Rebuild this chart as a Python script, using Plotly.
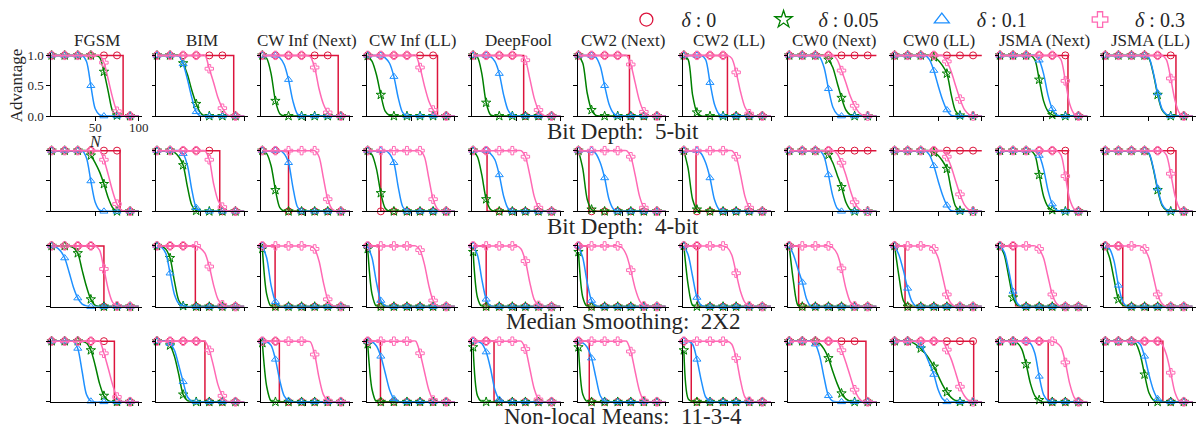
import plotly.graph_objects as go

W, H = 1203, 439

N_GRID = [0, 5, 10, 15, 20, 25, 30, 35, 40, 45, 50, 55, 60, 65, 70, 75, 80, 85, 90, 95, 100]

ATTACKS = ["FGSM", "BIM", "CW Inf (Next)", "CW Inf (LL)", "DeepFool", "CW2 (Next)",
           "CW2 (LL)", "CW0 (Next)", "CW0 (LL)", "JSMA (Next)", "JSMA (LL)"]
DEFENSES = ["Bit Depth:\u00a0 5-bit", "Bit Depth:\u00a0 4-bit",
            "Median Smoothing:\u00a0 2X2", "Non-local Means:\u00a0 11-3-4"]
DELTAS = ["0", "0.05", "0.1", "0.3"]

# delta = 0 : N at which advantage drops from 1 to 0 (None = never drops)
CUT_D0 = [
    [82, 88, 87, 80, 58, 58.5, 50, None, None, 78, 81],
    [78.5, 72, 30, 15, 16, 12, 14, None, None, 78, 81],
    [60, 44, 14.6, 13, 15, 10, 15.8, 10.8, 12, 18, 20],
    [72, 55, 19.5, 14.6, 24, 12.4, 8.5, 88, 90.7, 55.3, 66],
]

# ---------------- Bit Depth 5-bit ----------------
BD5_D005 = [
    [1,1,1,1,1,1,1,1,1,1,1, .97,.73,.4,.08,.01, 0,0,0,0,0],
    [1,1,1,1,1,1, .87,.68,.42,.2,.05, 0,0,0,0,0, 0,0,0,0,0],
    [1, .95,.7,.25,.04, 0,0,0,0,0, 0,0,0,0,0, 0,0,0,0,0, 0],
    [.99,.9,.68,.35,.08,.01, 0,0,0,0,0, 0,0,0,0,0, 0,0,0,0,0],
    [1, .97,.7,.22,.02, 0,0,0,0,0, 0,0,0,0,0, 0,0,0,0,0, 0],
    [1, .87,.38,.1,.01, 0,0,0,0,0, 0,0,0,0,0, 0,0,0,0,0, 0],
    [1, .93,.35,.06, 0,0,0,0,0, 0,0,0,0,0, 0,0,0,0,0, 0,0],
    [1,1,1,1,1,1,1,1,1, .93,.8,.55,.3,.1,.02, 0,0,0,0,0,0],
    [1,1,1,1,1,1,1,1,1, .97,.92,.83,.7,.35,.08,.01, 0,0,0,0,0],
    [1,1,1,1,1,1,1,1, .93,.6,.25,.08,.02, 0,0,0,0,0,0,0,0],
    [1,1,1,1,1,1,1,1,1,1, .95,.7,.35,.1,.02, 0,0,0,0,0,0],
]
BD5_D01 = [
    [1,1,1,1,1,1,1,1, .9,.5,.12,.02, 0,0,0,0,0,0,0,0,0],
    [1,1,1,1,1, .99,.86,.6,.3,.07, 0,0,0,0,0,0,0,0,0,0,0],
    [1,1,1,1, .96,.85,.6,.25,.04, 0,0,0,0,0,0,0,0,0,0,0,0],
    [1,1,1,1, .96,.87,.65,.3,.06, 0,0,0,0,0,0,0,0,0,0,0,0],
    [1,1,1,1, .98,.9,.7,.35,.1,.01, 0,0,0,0,0,0,0,0,0,0,0],
    [1,1,1,1, .97,.82,.5,.2,.05, 0,0,0,0,0,0,0,0,0,0,0,0],
    [1,1,1,1,1, .93,.55,.2,.04, 0,0,0,0,0,0,0,0,0,0,0,0],
    [1,1,1,1,1,1,1, .97,.8,.45,.15,.03, 0,0,0,0,0,0,0,0,0],
    [1,1,1,1,1,1,1,1, .93,.75,.5,.27,.1,.01, 0,0,0,0,0,0,0],
    [1,1,1,1,1,1,1,1,1, .92,.7,.35,.12,.02, 0,0,0,0,0,0,0],
    [1,1,1,1,1,1,1,1,1,1, .96,.72,.38,.12,.03, 0,0,0,0,0,0],
]
BD5_D03 = [
    [1,1,1,1,1,1,1,1,1,1,1,1, .88,.6,.3,.08,.01, 0,0,0,0],
    [1,1,1,1,1,1,1,1,1,1,1,1, .78,.55,.3,.13,.03, 0,0,0,0],
    [1,1,1,1,1,1,1,1,1,1,1, .98,.8,.45,.2,.06, 0,0,0,0,0],
    [1,1,1,1,1,1,1,1,1,1,1,1, .8,.5,.25,.1,.01, 0,0,0,0],
    [1,1,1,1,1,1,1,1,1,1,1,1, .92,.62,.3,.1,.02, 0,0,0,0],
    [1,1,1,1,1,1,1,1,1,1,1,1, .85,.55,.25,.07,.01, 0,0,0,0],
    [1,1,1,1,1,1,1,1,1,1,1, .95,.72,.4,.15,.04, 0,0,0,0,0],
    [1,1,1,1,1,1,1,1,1,1,1, .93,.75,.55,.33,.17,.06,.01, 0,0,0],
    [1,1,1,1,1,1,1,1,1,1,1,1, .9,.73,.5,.28,.11,.03, 0,0,0],
    [1,1,1,1,1,1,1,1,1,1,1,1,1,1, .93,.58,.2,.04, 0,0,0],
    [1,1,1,1,1,1,1,1,1,1,1,1,1,1, .93,.62,.25,.05, 0,0,0],
]

# ---------------- Bit Depth 4-bit ----------------
BD4_D005 = [
    [1,1,1,1,1,1,1,1,1, .92,.8,.65,.45,.22,.06, 0,0,0,0,0,0],
    [1,1,1,1, .97,.9,.76,.4,.1,.01, 0,0,0,0,0,0,0,0,0,0,0],
    [1, .95,.75,.35,.06, 0,0,0,0,0, 0,0,0,0,0, 0,0,0,0,0, 0],
    [1, .93,.7,.3,.05, 0,0,0,0,0, 0,0,0,0,0, 0,0,0,0,0, 0],
    [1, .9,.6,.2,.03, 0,0,0,0,0, 0,0,0,0,0, 0,0,0,0,0, 0],
    [1, .7,.2,.03, 0,0,0,0,0, 0,0,0,0,0, 0,0,0,0,0, 0,0],
    [1, .7,.2,.03, 0,0,0,0,0, 0,0,0,0,0, 0,0,0,0,0, 0,0],
    [1,1,1,1,1,1,1,1,1, .93,.8,.6,.4,.15,.03, 0,0,0,0,0,0],
    [1,1,1,1,1,1,1,1,1, .97,.92,.83,.7,.35,.08,.01, 0,0,0,0,0],
    [1,1,1,1,1,1,1,1, .93,.6,.25,.08,.02, 0,0,0,0,0,0,0,0],
    [1,1,1,1,1,1,1,1,1,1, .95,.7,.35,.1,.02, 0,0,0,0,0,0],
]
BD4_D01 = [
    [1,1,1,1,1,1,1,1, .88,.5,.15,.02, 0,0,0,0,0,0,0,0,0],
    [1,1,1,1,1,1, .95,.75,.35,.06, 0,0,0,0,0,0,0,0,0,0,0],
    [1,1,1,1,1, .95,.8,.4,.08, 0,0,0,0,0,0,0,0,0,0,0,0],
    [1,1,1,1,1, .95,.8,.4,.08, 0,0,0,0,0,0,0,0,0,0,0,0],
    [1,1,1,1, .95,.85,.6,.25,.05, 0,0,0,0,0,0,0,0,0,0,0,0],
    [1,1,1,1, .95,.8,.55,.2,.04, 0,0,0,0,0,0,0,0,0,0,0,0],
    [1,1,1,1, .95,.8,.55,.2,.04, 0,0,0,0,0,0,0,0,0,0,0,0],
    [1,1,1,1,1,1,1,1, .9,.6,.25,.05, 0,0,0,0,0,0,0,0,0],
    [1,1,1,1,1,1,1,1, .93,.75,.5,.27,.1,.01, 0,0,0,0,0,0,0],
    [1,1,1,1,1,1,1,1,1, .92,.7,.35,.12,.02, 0,0,0,0,0,0,0],
    [1,1,1,1,1,1,1,1,1,1, .96,.72,.38,.12,.03, 0,0,0,0,0,0],
]
BD4_D03 = [
    [1,1,1,1,1,1,1,1,1,1,1,1, .85,.6,.33,.12,.02, 0,0,0,0],
    [1,1,1,1,1,1,1,1,1,1,1,1, .85,.45,.18,.07,.01, 0,0,0,0],
    [1,1,1,1,1,1,1,1,1,1,1,1,1, .9,.55,.2,.04, 0,0,0,0],
    [1,1,1,1,1,1,1,1,1,1,1,1,1, .9,.55,.2,.04, 0,0,0,0],
    [1,1,1,1,1,1,1,1,1,1,1,1, .9,.6,.25,.06, 0,0,0,0,0],
    [1,1,1,1,1,1,1,1,1,1,1,1, .9,.6,.25,.06, 0,0,0,0,0],
    [1,1,1,1,1,1,1,1,1,1,1,1, .9,.6,.25,.06, 0,0,0,0,0],
    [1,1,1,1,1,1,1,1,1,1,1, .95,.8,.6,.35,.15,.04, 0,0,0,0],
    [1,1,1,1,1,1,1,1,1,1,1,1, .9,.73,.5,.28,.11,.03, 0,0,0],
    [1,1,1,1,1,1,1,1,1,1,1,1,1,1, .93,.58,.2,.04, 0,0,0],
    [1,1,1,1,1,1,1,1,1,1,1,1,1,1, .93,.62,.25,.05, 0,0,0],
]

# ---------------- Median Smoothing 2x2 ----------------
MS_D005 = [
    [1,1,1,1,1, .97,.88,.6,.33,.12,.02, 0,0,0,0,0,0,0,0,0,0],
    [1, .99,.95,.8,.42,.1,.01, 0,0,0,0,0,0,0,0,0,0,0,0,0,0],
    [.95,.2, 0,0,0,0,0, 0,0,0,0,0, 0,0,0,0,0, 0,0,0,0],
    [.95,.2, 0,0,0,0,0, 0,0,0,0,0, 0,0,0,0,0, 0,0,0,0],
    [.9,.15, 0,0,0,0,0, 0,0,0,0,0, 0,0,0,0,0, 0,0,0,0],
    [.9,.15, 0,0,0,0,0, 0,0,0,0,0, 0,0,0,0,0, 0,0,0,0],
    [1, .35,.02, 0,0,0,0,0, 0,0,0,0,0, 0,0,0,0,0, 0,0,0],
    [1, .4,.02, 0,0,0,0,0, 0,0,0,0,0, 0,0,0,0,0, 0,0,0],
    [1, .5,.1, 0,0,0,0,0, 0,0,0,0,0, 0,0,0,0,0, 0,0,0],
    [1, .85,.5,.15,.02, 0,0,0,0,0, 0,0,0,0,0, 0,0,0,0,0, 0],
    [1, .8,.45,.12,.02, 0,0,0,0,0, 0,0,0,0,0, 0,0,0,0,0, 0],
]
MS_D01 = [
    [1, .98,.92,.8,.57,.32,.14,.04,.01, 0,0,0,0,0,0,0,0,0,0,0,0],
    [1, .98,.88,.55,.2,.05,.01, 0,0,0,0,0,0,0,0,0,0,0,0,0,0],
    [1, .8,.35,.08, 0,0,0,0,0, 0,0,0,0,0, 0,0,0,0,0, 0,0],
    [1, .8,.4,.1,.01, 0,0,0,0,0, 0,0,0,0,0, 0,0,0,0,0, 0],
    [1, .85,.45,.12,.01, 0,0,0,0,0, 0,0,0,0,0, 0,0,0,0,0, 0],
    [1, .8,.4,.1,.01, 0,0,0,0,0, 0,0,0,0,0, 0,0,0,0,0, 0],
    [1, .85,.5,.15,.02, 0,0,0,0,0, 0,0,0,0,0, 0,0,0,0,0, 0],
    [1, .85,.62,.4,.12, 0,0,0,0,0, 0,0,0,0,0, 0,0,0,0,0, 0],
    [1, .85,.6,.3,.08, 0,0,0,0,0, 0,0,0,0,0, 0,0,0,0,0, 0],
    [1, .9,.6,.25,.05, 0,0,0,0,0, 0,0,0,0,0, 0,0,0,0,0, 0],
    [1, .95,.75,.35,.08, 0,0,0,0,0, 0,0,0,0,0, 0,0,0,0,0, 0],
]
MS_D03 = [
    [1,1,1,1,1,1,1,1,1,1,1, .93,.62,.28,.07,.01, 0,0,0,0,0],
    [1,1,1,1,1,1,1,1,1,1, .96,.88,.66,.35,.12,.03, 0,0,0,0,0],
    [1,1,1,1,1,1,1,1,1,1,1,1, .95,.75,.4,.12,.02, 0,0,0,0],
    [1,1,1,1,1,1,1,1,1,1,1,1, .93,.7,.35,.1,.01, 0,0,0,0],
    [1,1,1,1,1,1,1,1,1,1,1, .95,.75,.4,.12,.02, 0,0,0,0,0],
    [1,1,1,1,1,1,1,1,1,1, .97,.85,.6,.3,.1,.01, 0,0,0,0,0],
    [1,1,1,1,1,1,1,1,1,1, .97,.85,.55,.25,.07,.01, 0,0,0,0,0],
    [1,1,1,1,1,1,1,1,1,1, .97,.87,.63,.3,.08,.01, 0,0,0,0,0],
    [1,1,1,1,1,1,1,1,1, .95,.8,.5,.2,.05, 0,0,0,0,0,0,0],
    [1,1,1,1,1,1,1,1,1, .95,.8,.5,.2,.05, 0,0,0,0,0,0,0],
    [1,1,1,1,1,1,1,1,1, .95,.8,.5,.2,.05, 0,0,0,0,0,0,0],
]

# ---------------- Non-local Means 11-3-4 ----------------
NLM_D005 = [
    [1,1,1,1,1,1,1,1, .97,.85,.6,.3,.1,.02, 0,0,0,0,0,0,0],
    [1,1,1, .93,.75,.45,.12,.02, 0,0,0,0,0,0,0,0,0,0,0,0,0],
    [.97,.25,.01, 0,0,0,0,0, 0,0,0,0,0, 0,0,0,0,0, 0,0,0],
    [.95,.2, 0,0,0,0,0, 0,0,0,0,0, 0,0,0,0,0, 0,0,0,0],
    [.9,.1, 0,0,0,0,0, 0,0,0,0,0, 0,0,0,0,0, 0,0,0,0],
    [.9,.12, 0,0,0,0,0, 0,0,0,0,0, 0,0,0,0,0, 0,0,0,0],
    [.85,.05, 0,0,0,0,0, 0,0,0,0,0, 0,0,0,0,0, 0,0,0,0],
    [1,1,1,1,1,1,1, .96,.87,.72,.5,.3,.14,.05,.01, 0,0,0,0,0,0],
    [1,1,1,1, .98,.94,.88,.8,.7,.58,.43,.28,.16,.07,.02, 0,0,0,0,0,0],
    [1,1,1,1, .97,.87,.62,.3,.1,.03, 0,0,0,0,0,0,0,0,0,0,0],
    [1,1,1,1,1,1,1, .96,.78,.45,.15,.03, 0,0,0,0,0,0,0,0,0],
]
NLM_D01 = [
    [1,1,1,1,1,1, .88,.5,.12,.01, 0,0,0,0,0,0,0,0,0,0,0],
    [1,1,1, .96,.85,.6,.33,.08,.01, 0,0,0,0,0,0,0,0,0,0,0,0],
    [1, .99,.93,.7,.35,.1,.02, 0,0,0,0,0,0,0,0,0,0,0,0,0,0],
    [1, .99,.92,.75,.48,.2,.05, 0,0,0,0,0,0,0,0,0,0,0,0,0,0],
    [1,1, .96,.82,.55,.2,.04, 0,0,0,0,0,0,0,0,0,0,0,0,0,0],
    [1, .97,.9,.72,.4,.1,.01, 0,0,0,0,0,0,0,0,0,0,0,0,0,0],
    [1,1, .95,.7,.35,.08,.01, 0,0,0,0,0,0,0,0,0,0,0,0,0,0],
    [1,1,1,1,1,1, .95,.75,.4,.1,.01, 0,0,0,0,0,0,0,0,0,0],
    [1,1,1,1,1, .99,.93,.8,.63,.45,.2,.05, 0,0,0,0,0,0,0,0,0],
    [1,1,1,1,1,1,1, .96,.8,.42,.12,.02, 0,0,0,0,0,0,0,0,0],
    [1,1,1,1,1,1,1,1, .95,.75,.45,.2,.05, 0,0,0,0,0,0,0,0],
]
NLM_D03 = [
    [1,1,1,1,1,1,1,1,1,1,1,1, .8,.55,.28,.08,.01, 0,0,0,0],
    [1,1,1,1,1,1,1,1,1,1,1,1, .85,.58,.28,.1,.01, 0,0,0,0],
    [1,1,1,1,1,1,1,1,1,1,1, .99,.78,.4,.12,.02, 0,0,0,0,0],
    [1,1,1,1,1,1,1,1,1,1,1,1, .8,.5,.2,.03, 0,0,0,0,0],
    [1,1,1,1,1,1,1,1,1,1,1,1, .87,.55,.22,.04, 0,0,0,0,0],
    [1,1,1,1,1,1,1,1,1,1,1,1, .83,.5,.18,.02, 0,0,0,0,0],
    [1,1,1,1,1,1,1,1,1,1,1, .95,.72,.35,.08,.01, 0,0,0,0,0],
    [1,1,1,1,1,1,1,1,1,1,1,1, .85,.65,.42,.2,.06, 0,0,0,0],
    [1,1,1,1,1,1,1,1,1,1,1,1, .86,.7,.48,.25,.1,.02, 0,0,0],
    [1,1,1,1,1,1,1,1,1,1,1,1,1, .97,.9,.65,.3,.08, 0,0,0],
    [1,1,1,1,1,1,1,1,1,1,1,1,1, .95,.78,.48,.15,.01, 0,0,0],
]

ROWS = [
    (BD5_D005, BD5_D01, BD5_D03),
    (BD4_D005, BD4_D01, BD4_D03),
    (MS_D005, MS_D01, MS_D03),
    (NLM_D005, NLM_D01, NLM_D03),
]

for r, grp in enumerate(ROWS):
    for s, series in enumerate(grp):
        assert len(series) == 11, (r, s)
        for c, v in enumerate(series):
            assert len(v) == len(N_GRID), (r, s, c, len(v))

# ---------------- styling ----------------
COLORS = ["#DC143C", "#008000", "#1E90FF", "#FF69B4"]
SYMBOLS = ["circle-open", "star-open", "triangle-up-open", "cross-open"]
FONT = "Liberation Serif, Times New Roman, serif"
TXT = "#262626"
MARK_EVERY = 3

COL_LEFT = [51 + 105.9 * c for c in range(11)]
PANEL_W = 92
ROW_BOTTOM = [113.7 + 98.4 * r for r in range(4)]
Y_TOP_VAL = 1.04
PANEL_H = 62.7 * Y_TOP_VAL

fig = go.Figure()
layout = {}
annotations = []

for r in range(4):
    for c in range(11):
        k = r * 11 + c + 1
        xs = "" if k == 1 else str(k)
        xref, yref = "x" + xs, "y" + xs
        first = (r == 0 and c == 0)
        x0 = COL_LEFT[c] / W
        x1 = (COL_LEFT[c] + PANEL_W) / W
        y0 = 1 - ROW_BOTTOM[r] / H
        y1 = 1 - (ROW_BOTTOM[r] - PANEL_H) / H
        layout["xaxis" + xs] = dict(
            domain=[x0, min(x1, 1.0)], range=[-1, 104], anchor=yref,
            showline=True, linecolor="black", linewidth=1, mirror=False,
            ticks="outside", ticklen=3.5, tickwidth=1, tickcolor="black",
            tickvals=[50, 100], showticklabels=first, showgrid=False,
            zeroline=False, tickfont=dict(family=FONT, size=13, color=TXT),
            ticklabelstandoff=-4, fixedrange=True)
        layout["yaxis" + xs] = dict(
            domain=[y0, y1], range=[0, Y_TOP_VAL], anchor=xref,
            showline=True, linecolor="black", linewidth=1, mirror=False,
            ticks="outside", ticklen=3.5, tickwidth=1, tickcolor="black",
            tickvals=[0, 0.5, 1.0], ticktext=["0.0", "0.5", "1.0"],
            showticklabels=first, showgrid=False, zeroline=False,
            tickfont=dict(family=FONT, size=13, color=TXT), fixedrange=True)

        # delta = 0 : step curve
        cut = CUT_D0[r][c]
        if cut is None:
            sx, sy = [N_GRID[0], N_GRID[-1]], [1, 1]
            my = [1 for n in N_GRID[::MARK_EVERY]]
        else:
            sx, sy = [N_GRID[0], cut, cut, N_GRID[-1]], [1, 1, 0, 0]
            my = [1 if n < cut else 0 for n in N_GRID[::MARK_EVERY]]
        fig.add_trace(go.Scatter(x=sx, y=sy, mode="lines", xaxis=xref, yaxis=yref,
                                 line=dict(color=COLORS[0], width=1.5),
                                 showlegend=False, hoverinfo="skip"))
        fig.add_trace(go.Scatter(x=N_GRID[::MARK_EVERY], y=my, mode="markers",
                                 xaxis=xref, yaxis=yref, cliponaxis=False,
                                 marker=dict(symbol=SYMBOLS[0], size=7, color=COLORS[0],
                                             line=dict(width=1, color=COLORS[0])),
                                 showlegend=False, hoverinfo="skip"))
        # other deltas : smooth curves
        for s, series in enumerate(ROWS[r]):
            vals = series[c]
            col = COLORS[s + 1]
            fig.add_trace(go.Scatter(x=N_GRID, y=vals, mode="lines", xaxis=xref, yaxis=yref,
                                     line=dict(color=col, width=1.5, shape="spline",
                                               smoothing=0.8),
                                     showlegend=False, hoverinfo="skip"))
            fig.add_trace(go.Scatter(x=N_GRID[::MARK_EVERY], y=vals[::MARK_EVERY],
                                     mode="markers", xaxis=xref, yaxis=yref, cliponaxis=False,
                                     marker=dict(symbol=SYMBOLS[s + 1], size=7, color=col,
                                                 line=dict(width=1, color=col)),
                                     showlegend=False, hoverinfo="skip"))

# column titles
for c, name in enumerate(ATTACKS):
    annotations.append(dict(text=name, x=(COL_LEFT[c] + PANEL_W / 2) / W, y=1 - 36 / H,
                            xref="paper", yref="paper", xanchor="center", yanchor="middle",
                            showarrow=False, font=dict(family=FONT, size=17, color=TXT)))
# row labels
GRID_CENTER = (COL_LEFT[0] + COL_LEFT[-1] + PANEL_W) / 2
for r, name in enumerate(DEFENSES):
    annotations.append(dict(text=name, x=GRID_CENTER / W, y=1 - (ROW_BOTTOM[r] + 15.5) / H,
                            xref="paper", yref="paper", xanchor="center", yanchor="middle",
                            showarrow=False, font=dict(family=FONT, size=23, color=TXT)))
# axis titles of first panel
annotations.append(dict(text="Advantage", x=16 / W, y=1 - 82 / H, xref="paper", yref="paper",
                        xanchor="center", yanchor="middle", textangle=-90, showarrow=False,
                        font=dict(family=FONT, size=17, color=TXT)))
annotations.append(dict(text="<i>N</i>", x=96 / W, y=1 - 140 / H, xref="paper", yref="paper",
                        xanchor="center", yanchor="middle", showarrow=False,
                        font=dict(family=FONT, size=16, color=TXT)))

# legend: one legend per delta, each anchored at the right end of its text
LEG_TEXT_END = [720, 883, 1032, 1191]
for k in range(4):
    lg = "legend" if k == 0 else "legend%d" % (k + 1)
    fig.add_trace(go.Scatter(x=[None], y=[None], mode="markers",
                             marker=dict(symbol=SYMBOLS[k], size=13, color=COLORS[k],
                                         line=dict(width=1.3, color=COLORS[k])),
                             name="\u00a0\u00a0\u00a0<i>\u03b4</i> : " + DELTAS[k],
                             legend=lg, showlegend=True))
    layout[lg] = dict(x=(LEG_TEXT_END[k] + 5) / W, xanchor="right", y=1 - 14 / H,
                      yanchor="middle", bgcolor="rgba(0,0,0,0)", borderwidth=0,
                      font=dict(family=FONT, size=20, color=TXT))

fig.update_layout(**layout)
fig.update_layout(width=W, height=H, margin=dict(l=0, r=0, t=0, b=0),
                  paper_bgcolor="white", plot_bgcolor="white",
                  annotations=annotations, hovermode=False)

fig.write_html("out.html")
